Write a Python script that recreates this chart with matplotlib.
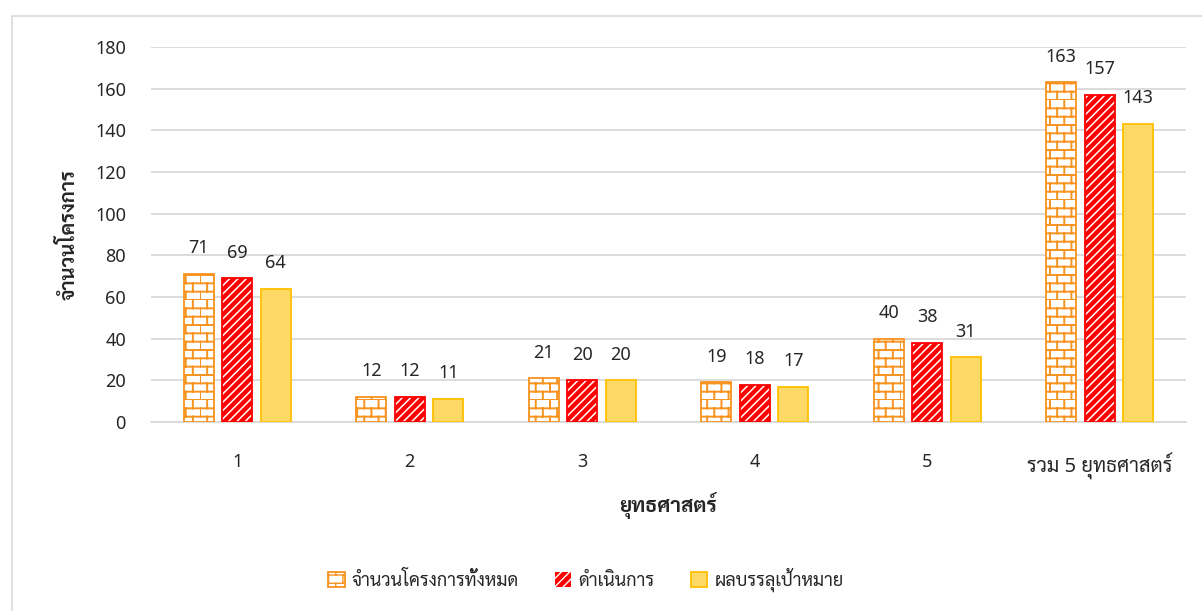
import numpy as np
import matplotlib
matplotlib.use('Agg')
import matplotlib.pyplot as plt
import matplotlib.hatch as mhatch
from matplotlib.path import Path
from matplotlib.patches import Patch, Rectangle

categories = ['1', '2', '3', '4', '5', 'รวม 5 ยุทธศาสตร์']
total_projects = [71, 12, 21, 19, 40, 163]
in_progress = [69, 12, 20, 18, 38, 157]
on_target = [64, 11, 20, 17, 31, 143]
series_names = ['จำนวนโครงการทั้งหมด', 'ดำเนินการ', 'ผลบรรลุเป้าหมาย']
yticks = [0, 20, 40, 60, 80, 100, 120, 140, 160, 180]

plt.rcParams['font.family'] = ['Noto Sans', 'Sarabun', 'Noto Sans Thai Looped', 'DejaVu Sans']


class BrickHatch(mhatch.HatchPatternBase):
    # '+' draws a brick wall instead of a grid
    def __init__(self, hatch, density):
        self.rows, self.cols = 12, 7
        self.on = '+' in hatch
        self.num_vertices = (self.rows + self.rows * self.cols) * 2 if self.on else 0

    def set_vertices_and_codes(self, vertices, codes):
        R, C = self.rows, self.cols
        k = 0
        for i in range(R):
            y = i / R
            vertices[k] = (0, y); vertices[k + 1] = (1, y)
            k += 2
        for i in range(R):
            y0, y1 = i / R, (i + 1) / R
            for j in range(C):
                x = (j + 0.5 * (i % 2)) / C
                vertices[k] = (x, y0); vertices[k + 1] = (x, y1)
                k += 2
        codes[0::2] = Path.MOVETO
        codes[1::2] = Path.LINETO


mhatch._hatch_types = [BrickHatch] + [h for h in mhatch._hatch_types
                                      if h not in (mhatch.HorizontalHatch, mhatch.VerticalHatch)]

orange = '#F7931E'
red = '#FF0000'
yellow = '#FFD966'
yellow_edge = '#FFC000'
grid = '#D9D9D9'
txt = '#262626'

fig = plt.figure(figsize=(12.02, 6.11), dpi=100)
fig.patches.append(Rectangle((12 / 1202, -0.1), 1.2, 1 - 16 / 611 + 0.1, transform=fig.transFigure,
                             fill=False, edgecolor='#D9D9D9', linewidth=1.2))
ax = fig.add_axes([151 / 1202, 1 - 422 / 611, (1186 - 151) / 1202, (422 - 47) / 611])

x = np.arange(len(categories))
w = 0.174
step = 0.223

with plt.rc_context({'hatch.linewidth': 1.4}):
    b1 = ax.bar(x - step, total_projects, w, facecolor='white', edgecolor=orange, linewidth=1.3,
                hatch='+', zorder=3)
with plt.rc_context({'hatch.linewidth': 1.1}):
    b2 = ax.bar(x, in_progress, w, facecolor=red, edgecolor='white', linewidth=0, hatch='////', zorder=3)
ax.bar(x, in_progress, w, fill=False, edgecolor=red, linewidth=1.3, zorder=4)
b3 = ax.bar(x + step, on_target, w, facecolor=yellow, edgecolor=yellow_edge, linewidth=1.3, zorder=3)

for bars, vals in ((b1, total_projects), (b2, in_progress), (b3, on_target)):
    for r, v in zip(bars, vals):
        ax.annotate(str(v), (r.get_x() + r.get_width() / 2, v), xytext=(0, 12), textcoords='offset points',
                    ha='center', va='bottom', fontsize=13, color=txt)

ax.set_ylim(0, 180)
ax.set_xlim(-0.5, len(categories) - 0.5)
ax.set_yticks(yticks)
ax.set_xticks(x)
ax.set_xticklabels(categories)
ax.yaxis.grid(True, color=grid, linewidth=1.3, zorder=0)
ax.set_axisbelow(True)
for s in ('top', 'right', 'left'):
    ax.spines[s].set_visible(False)
ax.spines['bottom'].set_color(grid)
ax.spines['bottom'].set_linewidth(1.3)
ax.tick_params(axis='both', length=0, labelsize=13, colors=txt)
ax.tick_params(axis='y', pad=18)
ax.tick_params(axis='x', pad=22)
ax.get_xticklabels()[-1].set_fontsize(14.5)
ax.set_xlabel('ยุทธศาสตร์', fontsize=15, fontweight='bold', color=txt, labelpad=9)
ax.set_ylabel('จำนวนโครงการ', fontsize=14.5, fontweight='bold', color=txt, labelpad=11)

handles = [Patch(facecolor='white', edgecolor=orange, hatch='+', linewidth=1.3),
           Patch(facecolor=red, edgecolor='white', hatch='////', linewidth=0),
           Patch(facecolor=yellow, edgecolor=yellow_edge, linewidth=1.3)]
fig.legend(handles, series_names, loc='center', bbox_to_anchor=(586 / 1202, 1 - 580 / 611), ncol=3,
           frameon=False, fontsize=13, handlelength=0.9, handleheight=0.9, handletextpad=0.4,
           columnspacing=2.0, labelcolor=txt)

fig.savefig('out.png', dpi=100)
